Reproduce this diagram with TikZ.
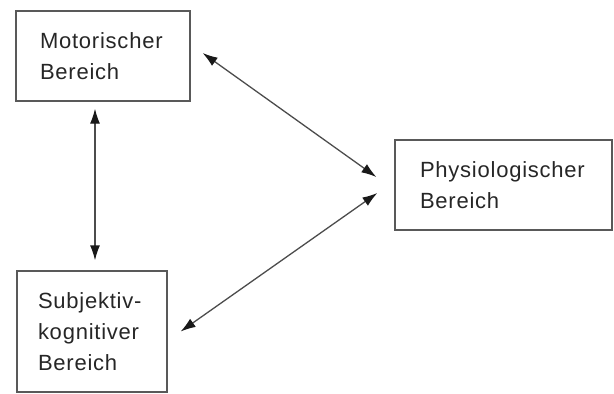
\documentclass[tikz,border=0pt]{standalone}
\usepackage{fontspec}
\setmainfont{Liberation Sans}[LetterSpace=3.5]
\usetikzlibrary{arrows.meta}
\begin{document}
\begin{tikzpicture}[x=1pt,y=-1pt,
  box/.style={draw=black!65, line width=1.3pt, align=left, font=\fontsize{22}{31}\selectfont, text=black!85, inner ysep=0pt},
  link/.style={draw=black!70, line width=1.3pt, {Latex[length=15pt,width=10pt,color=black!90]}-{Latex[length=15pt,width=10pt,color=black!90]}}]
\useasboundingbox (0,0) rectangle (614,394);
\node[box, inner xsep=24pt, text width=126pt, minimum height=90pt] (motor) at (103,56) {Motorischer\\Bereich};
\node[box, inner xsep=21pt, text width=108pt, minimum height=121pt] (subj) at (92,331.5) {Subjektiv-\\kognitiver\\Bereich};
\node[box, inner xsep=25pt, text width=167pt, minimum height=90pt] (phys) at (503.5,185) {Physiologischer\\Bereich};
\draw[link] ([xshift=-8pt,yshift=-7pt]motor.south) -- ([xshift=3pt,yshift=10pt]subj.north);
\draw[link] ([xshift=12pt,yshift=3pt]motor.east) -- ([xshift=-18pt,yshift=8pt]phys.west);
\draw[link] ([xshift=-17pt,yshift=-8pt]phys.west) -- ([xshift=13pt]subj.east);
\end{tikzpicture}
\end{document}
